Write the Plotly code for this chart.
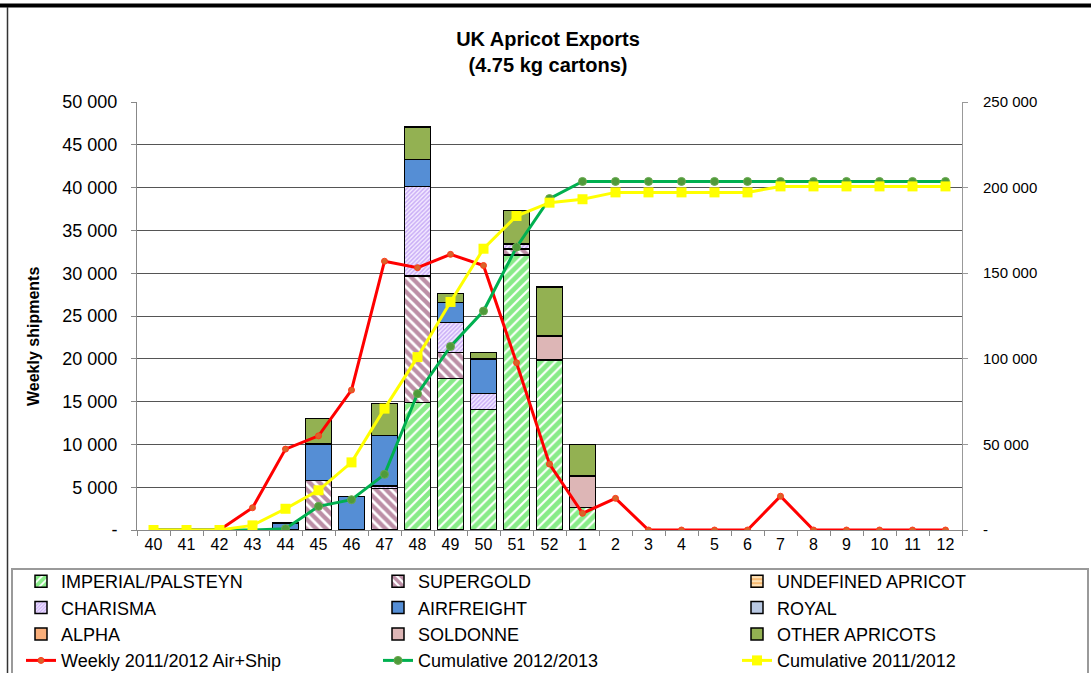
import plotly.graph_objects as go

weeks = ["40", "41", "42", "43", "44", "45", "46", "47", "48", "49", "50", "51", "52",
         "1", "2", "3", "4", "5", "6", "7", "8", "9", "10", "11", "12"]

N = None
imperial = [N, N, N, N, N, N, N, N, 14900, 17700, 14100, 32100, 19860, 2600,
            N, N, N, N, N, N, N, N, N, N, N]
supergold = [N, N, N, N, N, 5800, N, 4830, 14770, 3060, N, 700, N, N,
             N, N, N, N, N, N, N, N, N, N, N]
undefined_apricot = [N] * 25
charisma = [N, N, N, N, N, N, N, 310, 10430, 3500, 1870, 600, N, N,
            N, N, N, N, N, N, N, N, N, N, N]
airfreight = [N, N, N, N, 800, 4250, 3900, 5920, 3200, 2340, 4010, N, N, N,
              N, N, N, N, N, N, N, N, N, N, N]
royal = [N] * 25
alpha = [N] * 25
soldonne = [N, N, N, N, N, N, N, N, N, N, N, N, 2800, 3700,
            N, N, N, N, N, N, N, N, N, N, N]
other = [N, N, N, N, N, 3000, N, 3700, 3800, 1000, 780, 3900, 5740, 3700,
         N, N, N, N, N, N, N, N, N, N, N]

weekly_1112 = [0, 0, 0, 2600, 9450, 11000, 16350, 31400, 30650, 32200, 30900, 19550, 7700,
               1950, 3700, 0, 0, 0, 0, 3950, 0, 0, 0, 0, 0]
cum_1213 = [0, 0, 0, 0, 800, 13800, 17700, 32500, 79600, 107200, 127900, 165200, 193600,
            203600, 203600, 203600, 203600, 203600, 203600, 203600, 203600, 203600, 203600,
            203600, 203600]
cum_1112 = [0, 0, 0, 2700, 12400, 23200, 39500, 70900, 101000, 133200, 164300, 183400, 191200,
            193200, 197200, 197200, 197200, 197200, 197200, 200700, 200700, 200700, 200700,
            200700, 200700]

left_ticks = [0, 5000, 10000, 15000, 20000, 25000, 30000, 35000, 40000, 45000, 50000]
left_labels = ["-", "5 000", "10 000", "15 000", "20 000", "25 000", "30 000", "35 000",
               "40 000", "45 000", "50 000"]
right_ticks = [0, 50000, 100000, 150000, 200000, 250000]
right_labels = ["-", "50 000", "100 000", "150 000", "200 000", "250 000"]

FONT = "Liberation Sans, Arial, sans-serif"
L, R, T, B = 137, 962, 102, 530
W, H = 1091, 673

fig = go.Figure()

def bar(name, vals, color, legend, pattern=None):
    marker = dict(color=color, line=dict(color="black", width=1.5))
    if pattern:
        marker["pattern"] = pattern
    fig.add_trace(go.Bar(x=weeks, y=vals, name=name, marker=marker, yaxis="y", legend=legend))

bar("IMPERIAL/PALSTEYN", imperial, "white", "legend",
    dict(shape="/", fgcolor="#11d811", bgcolor="white", size=7, solidity=0.7, fillmode="overlay"))
bar("SUPERGOLD", supergold, "white", "legend2",
    dict(shape="\\", fgcolor="#7a1f4d", bgcolor="white", size=7, solidity=0.62, fillmode="overlay"))
bar("UNDEFINED APRICOT", undefined_apricot, "#fbd49a", "legend3",
    dict(shape="-", fgcolor="#f08a1c", bgcolor="#fde2b8", size=5, solidity=0.45, fillmode="overlay"))
bar("CHARISMA", charisma, "#e6d5ff", "legend",
    dict(shape="/", fgcolor="#a070ee", bgcolor="#f3eaff", size=3, solidity=0.5, fillmode="overlay"))
bar("AIRFREIGHT", airfreight, "#558ed5", "legend2")
bar("ROYAL", royal, "#b9c9e3", "legend3")
bar("ALPHA", alpha, "#f9ae7a", "legend")
bar("SOLDONNE", soldonne, "#ddb6b6", "legend2")
bar("OTHER APRICOTS", other, "#93b152", "legend3")

fig.add_trace(go.Scatter(x=weeks, y=weekly_1112, name="Weekly 2011/2012 Air+Ship", mode="lines+markers",
                         line=dict(color="#ff0000", width=3),
                         marker=dict(symbol="circle", size=6, color="#d8642a",
                                     line=dict(color="#ff3a1a", width=1)),
                         yaxis="y", legend="legend"))
fig.add_trace(go.Scatter(x=weeks, y=cum_1213, name="Cumulative 2012/2013", mode="lines+markers",
                         line=dict(color="#00b050", width=3),
                         marker=dict(symbol="circle", size=8, color="#4f9a3a",
                                     line=dict(color="#6aa84f", width=1)),
                         yaxis="y2", legend="legend2"))
fig.add_trace(go.Scatter(x=weeks, y=cum_1112, name="Cumulative 2011/2012", mode="lines+markers",
                         line=dict(color="#ffff00", width=3),
                         marker=dict(symbol="square", size=10, color="#ffff00"),
                         yaxis="y2", legend="legend3"))

def px_x(px):
    return (px - L) / (R - L)

def px_y(py):
    return (B - py) / (B - T)

shapes = [
    dict(type="line", xref="paper", yref="paper", x0=px_x(-5), x1=px_x(W + 5),
         y0=px_y(5.5), y1=px_y(5.5), line=dict(color="black", width=4), layer="above"),
    dict(type="line", xref="paper", yref="paper", x0=px_x(7.5), x1=px_x(7.5),
         y0=px_y(7), y1=px_y(H + 5), line=dict(color="#333333", width=1.5), layer="above"),
    dict(type="rect", xref="paper", yref="paper", x0=px_x(12), x1=px_x(1088),
         y0=px_y(569), y1=px_y(H + 10), line=dict(color="#9a9a9a", width=2),
         fillcolor="rgba(0,0,0,0)", layer="above"),
]

LEG_TOP = 563
def leg(xpx):
    return dict(orientation="v", xref="container", yref="container",
                x=xpx / W, xanchor="left", y=1 - LEG_TOP / H, yanchor="top",
                borderwidth=0, bgcolor="rgba(0,0,0,0)",
                font=dict(size=18, family=FONT, color="black"),
                traceorder="normal", tracegroupgap=0)

fig.update_layout(
    width=W, height=H,
    margin=dict(l=L, r=W - R, t=T, b=H - B, pad=0, autoexpand=False),
    paper_bgcolor="white", plot_bgcolor="white",
    barmode="stack", bargap=0.22,
    font=dict(family=FONT, color="black"),
    title=dict(text="<b>UK Apricot Exports<br>(4.75 kg cartons)</b>",
               x=548 / W, xref="container", xanchor="center",
               y=1 - 45.5 / H, yref="container", yanchor="middle",
               font=dict(size=20, family=FONT, color="black")),
    xaxis=dict(type="category", categoryorder="array", categoryarray=weeks,
               range=[-0.5, 24.5], showgrid=False,
               ticks="outside", tickson="boundaries", ticklen=5, tickcolor="#888888",
               showline=True, linecolor="#888888", linewidth=1,
               tickfont=dict(size=16, family=FONT)),
    yaxis=dict(range=[0, 50000], tickvals=left_ticks, ticktext=left_labels,
               showgrid=True, gridcolor="#555555", gridwidth=1,
               ticks="outside", ticklen=5, tickcolor="#888888",
               showline=True, linecolor="#888888", linewidth=1,
               zeroline=False, tickfont=dict(size=18, family=FONT),
               ticklabelstandoff=10),
    yaxis2=dict(range=[0, 250000], overlaying="y", side="right",
                tickvals=right_ticks, ticktext=right_labels, showgrid=False,
                ticks="outside", ticklen=5, tickcolor="#999999",
                showline=True, linecolor="#999999", linewidth=1,
                zeroline=False, tickfont=dict(size=15, family=FONT),
                ticklabelstandoff=12),
    legend=leg(21),
    legend2=leg(378),
    legend3=leg(737),
    shapes=shapes,
    annotations=[dict(text="<b>Weekly shipments</b>", xref="paper", yref="paper",
                      x=px_x(33), y=px_y(337), textangle=-90, showarrow=False,
                      xanchor="center", yanchor="middle",
                      font=dict(size=16, family=FONT, color="black"))],
)

fig.write_html("out.html", config={"displayModeBar": False},
               post_script="document.body.style.margin='0px';")
